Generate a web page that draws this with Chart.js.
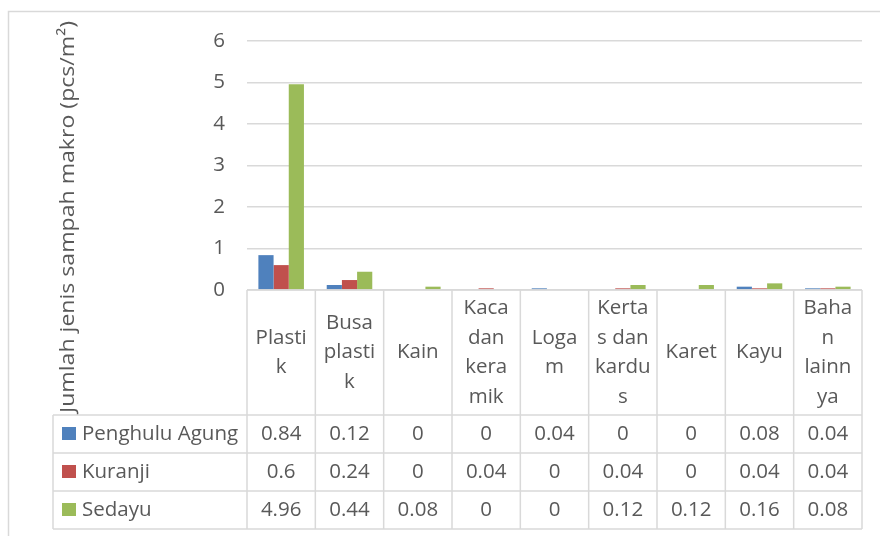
<!DOCTYPE html>
<html>
<head>
<meta charset="utf-8">
<script src="https://cdn.jsdelivr.net/npm/chart.js@4.4.1/dist/chart.umd.min.js"></script>
<style>
  html, body { margin: 0; padding: 0; background: #ffffff; }
  canvas { display: block; }
</style>
</head>
<body>
<canvas id="chart" width="880" height="536"></canvas>
<script>
// Macro litter composition per site (pcs/m²)
const categories = ['Plastik', 'Busa plastik', 'Kain', 'Kaca dan keramik', 'Logam',
                    'Kertas dan kardus', 'Karet', 'Kayu', 'Bahan lainnya'];
// Category names as they wrap inside the narrow table header cells
const headerLines = [
  ['Plasti', 'k'], ['Busa', 'plasti', 'k'], ['Kain'], ['Kaca', 'dan', 'kera', 'mik'],
  ['Loga', 'm'], ['Kerta', 's dan', 'kardu', 's'], ['Karet'], ['Kayu'], ['Baha', 'n', 'lainn', 'ya']
];
const seriesNames = ['Penghulu Agung', 'Kuranji', 'Sedayu'];
const penghuluAgung = [0.84, 0.12, 0, 0, 0.04, 0, 0, 0.08, 0.04];
const kuranji       = [0.6, 0.24, 0, 0.04, 0, 0.04, 0, 0.04, 0.04];
const sedayu        = [4.96, 0.44, 0.08, 0, 0, 0.12, 0.12, 0.16, 0.08];
const yTicks = [0, 1, 2, 3, 4, 5, 6];
const axisTitle = 'Jumlah jenis sampah makro (pcs/m²)';

const seriesValues = [penghuluAgung, kuranji, sedayu];
const seriesColors = ['#4F81BD', '#C0504D', '#9BBB59'];

const FONT = '"Open Sans", "Noto Sans", sans-serif';
const FONT_SIZE = 20.5;
const TEXT_COLOR = '#595959';
const LINE_COLOR = '#D9D9D9';

// Geometry of the data table under the plot
const TABLE = { headerHeight: 125, rowHeight: 38, legendLeft: 53, lineHeight: 29.5 };

const tablePlugin = {
  id: 'dataTable',
  beforeDraw(chart) {
    const ctx = chart.ctx;
    ctx.save();
    ctx.fillStyle = '#ffffff';
    ctx.fillRect(0, 0, chart.width, chart.height);
    ctx.strokeStyle = LINE_COLOR;
    ctx.lineWidth = 1.5;
    ctx.strokeRect(8.5, 11.5, chart.width + 20, chart.height + 20);

    // rotated value-axis title, stretched along its length
    const area = chart.chartArea;
    const titleLen = 392;
    const cy = area.top + 176;
    ctx.font = `${FONT_SIZE}px ${FONT}`;
    const w = ctx.measureText(axisTitle).width;
    ctx.translate(68, cy);
    ctx.rotate(-Math.PI / 2);
    ctx.scale(titleLen / w, 1);
    ctx.fillStyle = TEXT_COLOR;
    ctx.textAlign = 'center';
    ctx.textBaseline = 'middle';
    ctx.fillText(axisTitle, 0, 0);
    ctx.restore();
  },
  afterDraw(chart) {
    const { ctx, chartArea, scales: { x } } = chart;
    const half = (x.getPixelForValue(1) - x.getPixelForValue(0)) / 2;
    const left = x.getPixelForValue(0) - half;
    const right = x.getPixelForValue(categories.length - 1) + half;
    const top = chartArea.bottom;
    const rowsTop = top + TABLE.headerHeight;
    const bottom = rowsTop + TABLE.rowHeight * seriesNames.length;

    ctx.save();
    ctx.strokeStyle = LINE_COLOR;
    ctx.lineWidth = 1.5;
    const hLine = (x0, x1, y) => { ctx.beginPath(); ctx.moveTo(x0, y); ctx.lineTo(x1, y); ctx.stroke(); };
    const vLine = (xx, y0, y1) => { ctx.beginPath(); ctx.moveTo(xx, y0); ctx.lineTo(xx, y1); ctx.stroke(); };

    hLine(left, right, top);
    for (let r = 0; r <= seriesNames.length; r++) {
      hLine(TABLE.legendLeft, right, rowsTop + r * TABLE.rowHeight);
    }
    vLine(TABLE.legendLeft, rowsTop, bottom);
    for (let i = 0; i <= categories.length; i++) {
      vLine(left + i * 2 * half, top, bottom);
    }

    ctx.fillStyle = TEXT_COLOR;
    ctx.font = `${FONT_SIZE}px ${FONT}`;
    ctx.textAlign = 'center';
    ctx.textBaseline = 'middle';

    // header: wrapped category names
    const headerMid = top + TABLE.headerHeight / 2;
    headerLines.forEach((lines, i) => {
      const cx = x.getPixelForValue(i);
      const y0 = headerMid - (lines.length - 1) * TABLE.lineHeight / 2;
      lines.forEach((t, k) => ctx.fillText(t, cx, y0 + k * TABLE.lineHeight));
    });

    // value rows with legend keys
    seriesNames.forEach((name, s) => {
      const cy = rowsTop + TABLE.rowHeight * (s + 0.5);
      ctx.fillStyle = seriesColors[s];
      ctx.fillRect(62, cy - 7, 14, 13);
      ctx.fillStyle = TEXT_COLOR;
      ctx.textAlign = 'left';
      ctx.fillText(name, 82, cy);
      ctx.textAlign = 'center';
      seriesValues[s].forEach((v, i) => {
        ctx.fillText(String(v), x.getPixelForValue(i), cy);
      });
    });
    ctx.restore();
  }
};

new Chart(document.getElementById('chart'), {
  type: 'bar',
  data: {
    labels: categories,
    datasets: seriesNames.map((name, s) => ({
      label: name,
      data: seriesValues[s],
      backgroundColor: seriesColors[s],
      borderWidth: 0,
      barPercentage: 1,
      categoryPercentage: 3 / 4.5
    }))
  },
  options: {
    responsive: false,
    animation: false,
    devicePixelRatio: 1,
    layout: { padding: { left: 56, top: 41, right: 18, bottom: 246 } },
    plugins: { legend: { display: false }, tooltip: { enabled: false } },
    scales: {
      x: { display: false },
      y: {
        min: 0,
        max: 6,
        afterBuildTicks: (scale) => { scale.ticks = yTicks.map(v => ({ value: v })); },
        afterFit: (scale) => { scale.width = 247 - 56; },
        ticks: { padding: 22, color: TEXT_COLOR, font: { family: FONT, size: FONT_SIZE } },
        grid: { color: LINE_COLOR, lineWidth: 1.5, drawTicks: false },
        border: { display: false }
      }
    }
  },
  plugins: [tablePlugin]
});
</script>
</body>
</html>
